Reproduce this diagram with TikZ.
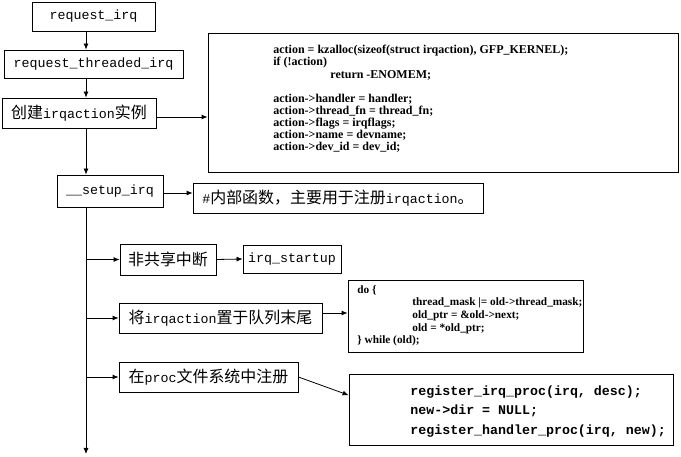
\documentclass[tikz,border=0pt]{standalone}
\usepackage{fontspec}
\setmainfont{Liberation Serif}
\setmonofont{Liberation Mono}
\newfontfamily\cjk[Scale=1.2]{Noto Sans CJK SC}
\usetikzlibrary{calc,arrows.meta}

\newcommand{\zh}[1]{{\cjk #1}}

\begin{document}
\begin{tikzpicture}[x=1pt,y=1pt,yscale=-1,
        box/.style={draw, line width=0.8pt, inner sep=0pt, font=\fontsize{13.3}{16}\ttfamily},
        codebox/.style={draw, line width=0.8pt, inner sep=0pt},
        code/.style={anchor=north west, inner sep=0pt, align=left, font=\fontsize{12}{12.1}\selectfont\bfseries},
        >={Latex[length=6pt,width=5pt]}, line width=0.8pt]
            \useasboundingbox (0,0) rectangle (681,457);
            \coordinate (trunk) at (86,0);
            \coordinate (bottom) at (86,454);
            %
            %call chain
            \node[box, minimum width=123, minimum height=29] (req) at (93.5,16.5) {request\_irq};
            \node[box, minimum width=179, minimum height=28] (thr) at (93.5,64) {request\_threaded\_irq};
            \node[box, minimum width=154, minimum height=30] (create) at (79,113) {\zh{创建}irqaction\zh{实例}};
            \node[box, minimum width=106, minimum height=32] (setup) at (110,191) {\_\_setup\_irq};
            \node[box, minimum width=290, minimum height=30] (note) at (338,198) {\#\zh{内部函数，主要用于注册}irqaction\zh{。}};
            %
            %branches of __setup_irq
            \node[box, minimum width=96, minimum height=31] (nonshared) at (168,259.5) {\zh{非共享中断}};
            \node[box, minimum width=98, minimum height=28] (startup) at (292,259) {irq\_startup};
            \node[box, minimum width=203, minimum height=30] (queue) at (220.5,318) {\zh{将}irqaction\zh{置于队列末尾}};
            \node[box, minimum width=179, minimum height=30] (proc) at (208.5,377) {\zh{在}proc\zh{文件系统中注册}};
            %
            %code boxes
            \node[codebox, minimum width=470, minimum height=139] (alloc) at (443,102.5) {};
            \node[code] (alloctext) at (273,45) {action = kzalloc(sizeof(struct irqaction), GFP\_KERNEL);\\
                if (!action)\\
                \hspace*{57pt}return -ENOMEM;\\[12pt]
                action->handler = handler;\\
                action->thread\_fn = thread\_fn;\\
                action->flags = irqflags;\\
                action->name = devname;\\
                action->dev\_id = dev\_id;};
            \node[codebox, minimum width=235, minimum height=72] (loop) at (465.5,316) {};
            \node[code, font=\fontsize{11.3}{12.6}\selectfont\bfseries] (looptext) at (357,285) {do \{\\
                \hspace*{55pt}thread\_mask |= old->thread\_mask;\\
                \hspace*{55pt}old\_ptr = \&old->next;\\
                \hspace*{55pt}old = *old\_ptr;\\
                \} while (old);};
            \node[codebox, minimum width=324, minimum height=71] (register) at (511,409.5) {};
            \node[code, font=\fontsize{13.3}{19.5}\ttfamily\bfseries] (registertext) at (410,385) {register\_irq\_proc(irq, desc);\\
                new->dir = NULL;\\
                register\_handler\_proc(irq, new);};
            %
            %connectors
            \draw[->] (req.south -| trunk) -- (thr.north -| trunk);
            \draw[->] (thr.south -| trunk) -- (create.north -| trunk);
            \draw[->] (create.south -| trunk) -- (setup.north -| trunk);
            \draw[->] ($(create.east)+(0,4)$) -- ($(create.east -| alloc.west)+(0,4)$);
            \draw[->] ($(setup.east)+(0,2)$) -- ($(setup.east -| note.west)+(0,2)$);
            \draw[->] (setup.south -| trunk) -- (bottom);
            \draw[->] (nonshared.west -| trunk) -- (nonshared.west);
            \draw[->] (nonshared.east) -- (startup.west);
            \draw[->] (queue.west -| trunk) -- (queue.west);
            \draw[->] ($(queue.east)+(0,-5)$) -- ($(queue.east -| loop.west)+(0,-5)$);
            \draw[->] (proc.west -| trunk) -- (proc.west);
            \draw[->] (proc.east) -- ($(register.north west)!0.3!(register.south west)$);
        \end{tikzpicture}
\end{document}
